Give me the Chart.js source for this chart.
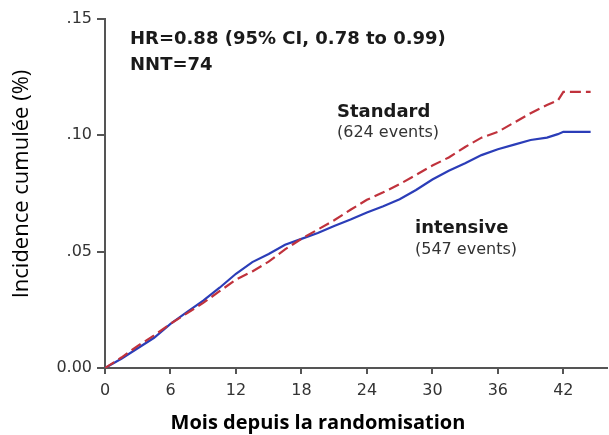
<!DOCTYPE html>
<html>
<head>
<meta charset="utf-8">
<script src="https://cdn.jsdelivr.net/npm/chart.js@4"></script>
<style>
  html, body { margin: 0; padding: 0; background: #fff; }
  #wrap { width: 609px; height: 435px; }
</style>
</head>
<body>
<div id="wrap"><canvas id="chart"></canvas></div>
<script>
// months since randomisation
const months = [0, 1.5, 3, 4.5, 6, 7.5, 9, 10.5, 12, 13.5, 15, 16.5, 18, 19.5, 21, 22.5,
                24, 25.5, 27, 28.5, 30, 31.5, 33, 34.5, 36, 37.5, 39, 40.5, 41.5, 42, 44.5];

const intensive = [0, 0.004, 0.0085, 0.013, 0.019, 0.024, 0.029, 0.0345, 0.0405, 0.0455, 0.049,
                   0.053, 0.0555, 0.058, 0.061, 0.0638, 0.0668, 0.0695, 0.0725, 0.0765, 0.081,
                   0.0848, 0.088, 0.0915, 0.094, 0.096, 0.098, 0.099, 0.1005, 0.1015, 0.1015];

const standard = [0, 0.0045, 0.0095, 0.014, 0.019, 0.0235, 0.028, 0.033, 0.038, 0.0415, 0.0457,
                  0.051, 0.0555, 0.0595, 0.0635, 0.068, 0.0723, 0.0755, 0.079, 0.083, 0.087,
                  0.0905, 0.095, 0.099, 0.1015, 0.1055, 0.1095, 0.113, 0.115, 0.1187, 0.1187];

const yTickLabels = { 0: "0.00", 0.05: ".05", 0.1: ".10", 0.15: ".15" };
const xTicks = [0, 6, 12, 18, 24, 30, 36, 42];

const toPoints = vals => vals.map((v, i) => ({ x: months[i], y: v }));

// texts drawn on top of the chart
const labelsPlugin = {
    id: "labels",
    afterDraw(chart) {
        const c = chart.ctx;
        c.save();
        c.fillStyle = "#1a1a1a";
        c.textBaseline = "middle";
        c.textAlign = "left";

        c.font = "bold 18px 'DejaVu Sans', sans-serif";
        c.fillText("HR=0.88 (95% CI, 0.78 to 0.99)", 130, 39);
        c.fillText("NNT=74", 130, 65);
        c.fillText("Standard", 337, 112);
        c.fillText("intensive", 415, 228);

        c.font = "16px 'DejaVu Sans', sans-serif";
        c.fillStyle = "#333";
        c.fillText("(624 events)", 337, 133);
        c.fillText("(547 events)", 415, 250);

        // axis titles
        c.fillStyle = "#000";
        c.textAlign = "center";
        c.font = "bold 20px 'Open Sans', sans-serif";
        c.fillText("Mois depuis la randomisation", 318, 423);

        c.translate(22, 184);
        c.rotate(-Math.PI / 2);
        c.font = "22px 'Open Sans', sans-serif";
        c.fillText("Incidence cumulée (%)", 0, 0);
        c.restore();
    }
};

new Chart(document.getElementById("chart"), {
    type: "line",
    data: {
        datasets: [
            {
                label: "Standard",
                data: toPoints(standard),
                borderColor: "#c0323c",
                borderWidth: 2.2,
                borderDash: [11, 5],
                pointRadius: 0,
                tension: 0
            },
            {
                label: "Intensive",
                data: toPoints(intensive),
                borderColor: "#2b3db8",
                borderWidth: 2.2,
                pointRadius: 0,
                tension: 0
            }
        ]
    },
    plugins: [labelsPlugin],
    options: {
        responsive: true,
        maintainAspectRatio: false,
        animation: false,
        layout: { padding: { top: 19, right: 2, left: 0, bottom: 0 } },
        plugins: {
            legend: { display: false },
            tooltip: { enabled: false }
        },
        scales: {
            x: {
                type: "linear",
                min: 0,
                max: 46,
                afterFit: s => { s.height = 67; },
                afterBuildTicks: s => { s.ticks = xTicks.map(v => ({ value: v })); },
                border: { display: true, color: "#555", width: 2 },
                grid: { display: true, drawOnChartArea: false, tickLength: 6, color: "#555", lineWidth: 2 },
                ticks: {
                    color: "#333",
                    padding: 7,
                    font: { size: 16, family: "'DejaVu Sans', sans-serif" }
                }
            },
            y: {
                min: 0,
                max: 0.15,
                afterFit: s => { s.width = 105; },
                border: { display: true, color: "#555", width: 2 },
                grid: { display: true, drawOnChartArea: false, tickLength: 8, color: "#555", lineWidth: 2 },
                ticks: {
                    stepSize: 0.05,
                    color: "#333",
                    padding: 5,
                    font: { size: 16, family: "'DejaVu Sans', sans-serif" },
                    callback: v => yTickLabels[Math.round(v * 100) / 100] ?? ""
                }
            }
        }
    }
});
</script>
</body>
</html>
